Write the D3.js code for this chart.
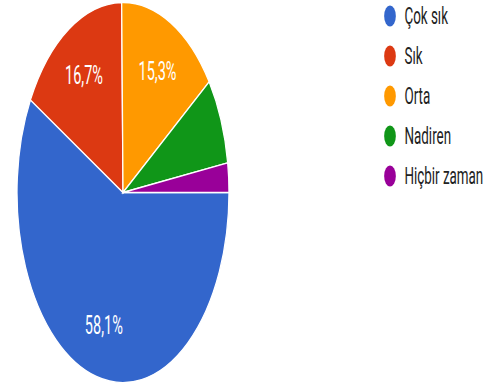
<!DOCTYPE html>
<html>
<head>
<meta charset="utf-8">
<script src="https://cdn.jsdelivr.net/npm/d3@7"></script>
<style>
  body { margin: 0; background: #fff; }
  text { font-family: Roboto, "Noto Sans", sans-serif; }
</style>
</head>
<body>
<svg id="chart"></svg>
<script>
const categories = ['Çok sık', 'Sık', 'Orta', 'Nadiren', 'Hiçbir zaman'];
const values = [58.1, 16.7, 15.3, 7.4, 2.5];
const colors = ['#3366cc', '#dc3912', '#ff9900', '#109618', '#990099'];

const width = 491;
const height = 385;
// the picture is squeezed sideways, so everything gets the same x squash
const squash = 106 / 190;
const radius = 190;

const svg = d3.select('#chart').attr('width', width).attr('height', height);

const data = categories.map((c, i) => ({ name: c, value: values[i], color: colors[i] }));

const pie = d3.pie()
  .sort(null)
  .value(d => d.value)
  .startAngle(Math.PI / 2)
  .endAngle(Math.PI / 2 + 2 * Math.PI);

const arc = d3.arc().innerRadius(0).outerRadius(radius);
const labelArc = d3.arc().innerRadius(radius * 0.72).outerRadius(radius * 0.72);

const body = svg.append('g')
  .attr('transform', 'translate(123,192.5) scale(' + squash + ',1)');

const slices = pie(data);

body.selectAll('.slice')
  .data(slices)
  .enter()
  .append('path')
  .attr('class', 'slice')
  .attr('d', arc)
  .attr('fill', d => d.data.color)
  .attr('stroke', '#fff')
  .attr('stroke-width', 1.3)
  .attr('vector-effect', 'non-scaling-stroke');

body.selectAll('.label')
  .data(slices.filter(d => d.data.value > 10))
  .enter()
  .append('text')
  .attr('class', 'label')
  .attr('transform', d => 'translate(' + labelArc.centroid(d) + ')')
  .attr('text-anchor', 'middle')
  .attr('dy', '0.36em')
  .attr('fill', '#fff')
  .attr('font-size', 26)
  .text(d => d.data.value.toFixed(1).replace('.', ',') + '%');

const legend = svg.append('g')
  .attr('transform', 'translate(390,16) scale(' + squash + ',1)');

const item = legend.selectAll('.item')
  .data(data)
  .enter()
  .append('g')
  .attr('class', 'item')
  .attr('transform', (d, i) => 'translate(0,' + i * 40 + ')');

item.append('circle')
  .attr('r', 10.5)
  .attr('fill', d => d.color);

item.append('text')
  .attr('x', 26)
  .attr('dy', '0.35em')
  .attr('font-size', 24)
  .attr('fill', '#222')
  .text(d => d.name);
</script>
</body>
</html>
